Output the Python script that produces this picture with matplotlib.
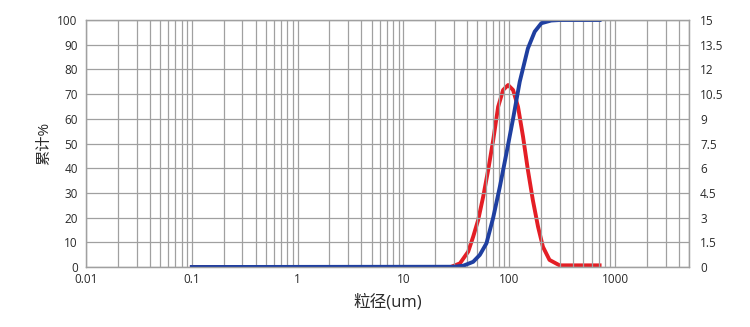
import matplotlib
matplotlib.use('Agg')
import matplotlib.pyplot as plt
from matplotlib.ticker import FixedLocator, NullFormatter

plt.rcParams['font.family'] = ['Open Sans', 'Noto Sans CJK SC', 'DejaVu Sans']

# distribution (right axis, %)
red_size = [0.1, 28, 34.2, 40.9, 45.6, 50.8, 56.7, 63.2, 70.5, 78.5, 87.5, 97.5,
            108.6, 121, 135, 150, 167, 187, 208, 240, 299, 714]
red_val = [0, 0, 0.22, 0.93, 1.84, 2.85, 4.27, 5.89, 7.71, 9.73, 10.75, 11.05,
           10.75, 9.73, 7.91, 5.89, 4.07, 2.45, 1.23, 0.43, 0.1, 0.1]

# cumulative (left axis, %)
blue_size = [0.1, 30, 36.7, 45.6, 52.7, 60.9, 70.5, 81.5, 94, 108.6, 125.6, 150,
             174, 201, 249, 300, 714]
blue_val = [0, 0.1, 0.5, 2.1, 4.9, 9.6, 20, 32.5, 46, 60, 75, 88.5,
            95.3, 98.7, 99.8, 100, 100]

x_ticks = [0.01, 0.1, 1, 10, 100, 1000]
x_labels = ['0.01', '0.1', '1', '10', '100', '1000']
left_ticks = list(range(0, 101, 10))
right_ticks = [0, 1.5, 3, 4.5, 6, 7.5, 9, 10.5, 12, 13.5, 15]
right_labels = ['0', '1.5', '3', '4.5', '6', '7.5', '9', '10.5', '12', '13.5', '15']

text_color = '#2a2a2a'
grid_color = '#a0a0a0'

fig = plt.figure(figsize=(7.5, 3.27), dpi=100)
ax = fig.add_axes([0.1147, 0.1835, 0.804, 0.7553])
ax2 = ax.twinx()
ax.set_zorder(ax2.get_zorder() + 1)
ax.patch.set_visible(False)

ax2.plot(red_size, red_val, color='#e41e25', lw=2.8, solid_joinstyle='round')
ax.plot(blue_size, blue_val, color='#1f3fa0', lw=2.8, solid_joinstyle='round')

ax.set_xscale('log')
ax.set_xlim(0.01, 5000)
ax.set_ylim(0, 100)
ax2.set_ylim(0, 15)

minor = [m * 10.0 ** e for e in range(-2, 4) for m in range(2, 10)]
minor = [v for v in minor if v <= 5000]
ax.xaxis.set_major_locator(FixedLocator(x_ticks))
ax.xaxis.set_minor_locator(FixedLocator(minor))
ax.xaxis.set_minor_formatter(NullFormatter())
ax.set_xticklabels(x_labels)
ax.set_yticks(left_ticks)
ax2.set_yticks(right_ticks)
ax2.set_yticklabels(right_labels)

ax.grid(True, which='both', axis='x', color=grid_color, lw=0.9)
ax.grid(True, which='major', axis='y', color=grid_color, lw=0.9)

for a in (ax, ax2):
    a.tick_params(which='both', length=0, labelsize=8.5, colors=text_color, pad=4)
    for s in a.spines.values():
        s.set_color(grid_color)
        s.set_linewidth(0.9)
ax.tick_params(axis='y', pad=6)
ax2.tick_params(axis='y', pad=8)

ax.set_ylabel('累计%', fontsize=11, color=text_color, labelpad=4)
ax.set_xlabel('粒径(um)', fontsize=12, color=text_color, labelpad=6)

fig.savefig('out.png', dpi=100)
